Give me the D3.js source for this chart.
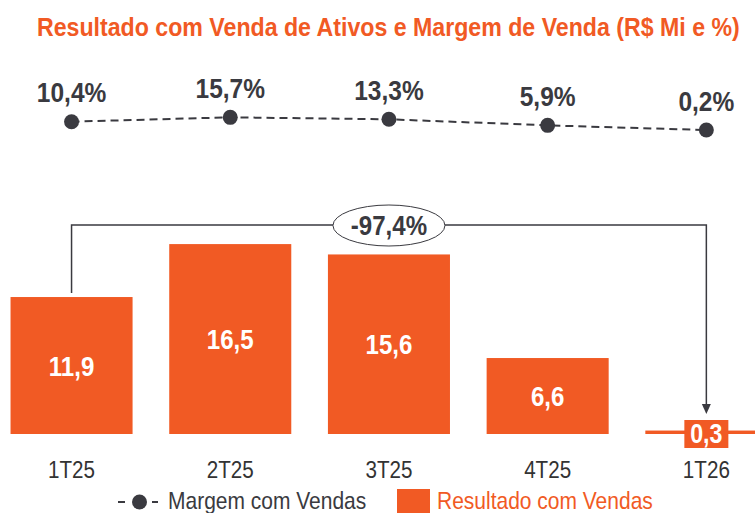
<!DOCTYPE html>
<html><head><meta charset="utf-8">
<script src="https://cdn.jsdelivr.net/npm/d3@7"></script>
<style>html,body{margin:0;padding:0;background:#fff;}svg{display:block;}</style>
</head><body>
<svg id="chart" width="755" height="513"></svg>
<script>
const categories = ["1T25","2T25","3T25","4T25","1T26"];
const resultado = [11.9, 16.5, 15.6, 6.6, 0.3];
const margem = [10.4, 15.7, 13.3, 5.9, 0.2];
const resultadoLabels = ["11,9","16,5","15,6","6,6","0,3"];
const margemLabels = ["10,4%","15,7%","13,3%","5,9%","0,2%"];
const variationLabel = "-97,4%";
const titleText = "Resultado com Venda de Ativos e Margem de Venda (R$ Mi e %)";
const legendLabels = ["Margem com Vendas", "Resultado com Vendas"];

const ORANGE = "#F15A24";
const DARK = "#3a3a40";
const FONT = "'Liberation Sans', Arial, sans-serif";
const SX = 0.86; // condensed look

const svg = d3.select("#chart");

function label(g, x, y, str, size, opts = {}) {
  return g.append("text")
    .attr("transform", `translate(${x},${y}) scale(${opts.sx || SX},1)`)
    .attr("text-anchor", opts.anchor || "middle")
    .attr("font-family", FONT)
    .attr("font-weight", opts.weight || "bold")
    .attr("font-size", size)
    .attr("fill", opts.fill || DARK)
    .text(str);
}

const x = d3.scaleBand().domain(categories).range([-7.8, 785.7]).paddingInner(0.231).paddingOuter(0.1155);
const yBar = d3.scaleLinear().domain([0, 20]).range([434, 203.8]);
const yLine = d3.scaleLinear().domain([0, 15.5]).range([130.2, 117.5]);
const cx = d => x(d) + x.bandwidth() / 2;

// Title (fit to reference span)
const title = svg.append("text").attr("font-family", FONT).attr("font-weight", "bold")
  .attr("font-size", 26.5).attr("fill", ORANGE).text(titleText);
const tl = title.node().getComputedTextLength();
title.attr("transform", `translate(37,36) scale(${703 / tl},1)`);

// Bars
svg.append("g").selectAll("rect").data(categories).join("rect")
  .attr("x", d => x(d)).attr("width", x.bandwidth())
  .attr("y", (d, i) => yBar(resultado[i]))
  .attr("height", (d, i) => yBar(0) - yBar(resultado[i]))
  .attr("fill", ORANGE);

// Bar labels
categories.forEach((c, i) => {
  if (i === categories.length - 1) {
    svg.append("rect").attr("x", cx(c) - 22).attr("y", yBar(0) - 14).attr("width", 44).attr("height", 28).attr("fill", ORANGE);
    label(svg, cx(c), yBar(0) + 9, resultadoLabels[i], 27, { fill: "#fff" });
  } else {
    const mid = (yBar(resultado[i]) + yBar(0)) / 2;
    label(svg, cx(c), mid + 10, resultadoLabels[i], 28, { fill: "#fff" });
  }
});

// Bracket annotation
const first = categories[0], last = categories[categories.length - 1];
const topY = 225;
svg.append("path")
  .attr("d", `M${cx(first)},${yBar(resultado[0]) - 4} V${topY} H${cx(last)} V${yBar(0) - 29}`)
  .attr("fill", "none").attr("stroke", DARK).attr("stroke-width", 1.5);
const tipY = yBar(0) - 20;
svg.append("path")
  .attr("d", `M${cx(last) - 4.5},${tipY - 10} L${cx(last) + 4.5},${tipY - 10} L${cx(last)},${tipY} Z`)
  .attr("fill", DARK);
svg.append("ellipse").attr("cx", cx(categories[2])).attr("cy", topY + 0.5).attr("rx", 56).attr("ry", 20.5)
  .attr("fill", "#fff").attr("stroke", DARK).attr("stroke-width", 1);
label(svg, cx(categories[2]), topY + 10, variationLabel, 28);

// Margin line
const line = d3.line().x((d, i) => cx(categories[i])).y(d => yLine(d));
svg.append("path").datum(margem).attr("d", line)
  .attr("fill", "none").attr("stroke", DARK).attr("stroke-width", 2).attr("stroke-dasharray", "8,5");
svg.append("g").selectAll("circle").data(margem).join("circle")
  .attr("cx", (d, i) => cx(categories[i])).attr("cy", d => yLine(d)).attr("r", 7.5).attr("fill", DARK);
margem.forEach((d, i) => label(svg, cx(categories[i]), yLine(d) - 19.5, margemLabels[i], 28.5));

// X axis labels
const xAxis = d3.axisBottom(x).tickSize(0).tickPadding(0);
const ax = svg.append("g").attr("transform", "translate(0,460)").call(xAxis);
ax.select(".domain").remove();
ax.selectAll("text").attr("font-family", FONT).attr("font-size", 24).attr("fill", "#333")
  .attr("dy", null).attr("y", null).attr("transform", `translate(0,18) scale(${SX},1)`);

// Legend
const lg = svg.append("g");
lg.append("line").attr("x1", 118).attr("x2", 125).attr("y1", 502).attr("y2", 502).attr("stroke", DARK).attr("stroke-width", 2);
lg.append("circle").attr("cx", 139.5).attr("cy", 502).attr("r", 7.5).attr("fill", DARK);
lg.append("line").attr("x1", 152).attr("x2", 158).attr("y1", 502).attr("y2", 502).attr("stroke", DARK).attr("stroke-width", 2);
label(lg, 168, 509, legendLabels[0], 24, { anchor: "start", weight: "normal", sx: 0.875 });
lg.append("rect").attr("x", 397).attr("y", 489).attr("width", 33).attr("height", 30).attr("fill", ORANGE);
label(lg, 437, 509, legendLabels[1], 24, { anchor: "start", weight: "normal", sx: 0.875, fill: ORANGE });
</script>
</body></html>
